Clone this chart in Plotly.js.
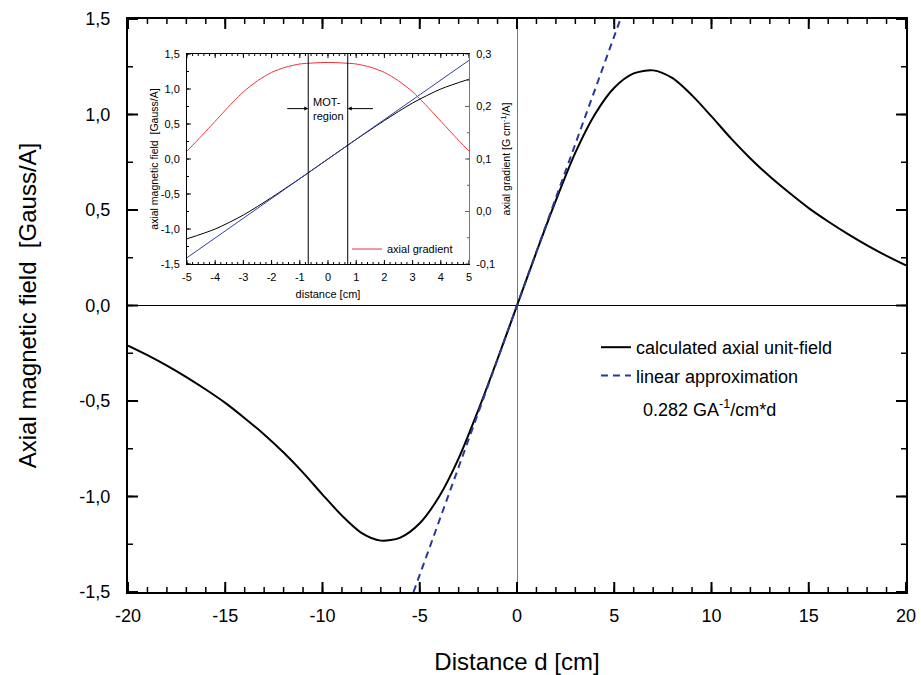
<!DOCTYPE html>
<html>
<head>
<meta charset="utf-8">
<script src="https://cdn.plot.ly/plotly-3.0.1.min.js"></script>
<style>html,body{margin:0;padding:0;background:#fff;}#chart{width:922px;height:675px;}</style>
</head>
<body>
<div id="chart"></div>
<script>
// ---- main chart data ----
const distance = [-20,-19,-18,-17,-16,-15,-14,-13,-12,-11,-10,-9,-8,-7,-6,-5,-4,-3,-2,-1,0,1,2,3,4,5,6,7,8,9,10,11,12,13,14,15,16,17,18,19,20];
const axialField = [-0.21,-0.26,-0.315,-0.375,-0.44,-0.51,-0.59,-0.675,-0.77,-0.875,-0.99,-1.10,-1.19,-1.231,-1.215,-1.14,-1.00,-0.80,-0.55,-0.28,0,0.28,0.55,0.80,1.00,1.14,1.215,1.231,1.19,1.10,0.99,0.875,0.77,0.675,0.59,0.51,0.44,0.375,0.315,0.26,0.21];
const linearX = [-5.32, 5.32];
const linearY = [-1.5, 1.5];
const xTickVals = [-20,-15,-10,-5,0,5,10,15,20];
const xTickText = ['-20','-15','-10','-5','0','5','10','15','20'];
const yTickVals = [-1.5,-1,-0.5,0,0.5,1,1.5];
const yTickText = ['-1,5','-1,0','-0,5','0,0','0,5','1,0','1,5'];

// ---- inset data ----
const insetX = [-5,-4,-3,-2,-1,0,1,2,3,4,5];
const insetField = [-1.14,-1.00,-0.80,-0.55,-0.28,0,0.28,0.55,0.80,1.00,1.14];
const gradX = [-5,-4.5,-4,-3.5,-3,-2.5,-2,-1.5,-1,-0.5,0,0.5,1,1.5,2,2.5,3,3.5,4,4.5,5];
const insetGradient = [0.115,0.143,0.172,0.201,0.228,0.249,0.265,0.275,0.281,0.283,0.284,0.283,0.281,0.275,0.265,0.249,0.228,0.201,0.172,0.143,0.115];
const insetLinX = [-5, 5];
const insetLinY = [-1.41, 1.41];
const motBounds = [-0.7, 0.7];
const arrowTails = [-1.55, 1.7];
const arrowLevel = 0.72;
const inXTickVals = [-5,-4,-3,-2,-1,0,1,2,3,4,5];
const inXTickText = ['-5','-4','-3','-2','-1','0','1','2','3','4','5'];
const inYTickVals = [-1.5,-1,-0.5,0,0.5,1,1.5];
const inYTickText = ['-1,5','-1,0','-0,5','0,0','0,5','1,0','1,5'];
const inY3TickVals = [-0.1,0,0.1,0.2,0.3];
const inY3TickText = ['-0,1','0,0','0,1','0,2','0,3'];

const FONT = 'Liberation Sans, Arial, sans-serif';

const traces = [
  {x: distance, y: axialField, type:'scatter', mode:'lines', name:'calculated axial unit-field',
   line:{color:'#000', width:2, shape:'spline', smoothing:0.8}, xaxis:'x', yaxis:'y', legendgroup:'a'},
  {x: linearX, y: linearY, type:'scatter', mode:'lines', name:'linear approximation',
   line:{color:'#2b3896', width:2, dash:'7px,5px'}, xaxis:'x', yaxis:'y', legendgroup:'b'},
  {x: insetX, y: insetField, type:'scatter', mode:'lines', showlegend:false,
   line:{color:'#000', width:1, shape:'spline', smoothing:0.8}, xaxis:'x2', yaxis:'y2'},
  {x: insetLinX, y: insetLinY, type:'scatter', mode:'lines', showlegend:false,
   line:{color:'#3340a0', width:1}, xaxis:'x2', yaxis:'y2'},
  {x: gradX, y: insetGradient, type:'scatter', mode:'lines', name:'axial gradient',
   line:{color:'#f0303a', width:1, shape:'spline', smoothing:0.6}, xaxis:'x2', yaxis:'y3', legend:'legend2'}
];

// ---- inside tick marks, built from the axis ranges and steps (axis decoration) ----
const MAIN_W = 778, MAIN_H = 573;
const inDomX = [0.0758,0.4383], inDomY = [0.5724,0.9389];
const IN_W = MAIN_W*(inDomX[1]-inDomX[0]), IN_H = MAIN_H*(inDomY[1]-inDomY[0]);

function tickTrace(xa, ya, xr, yr, w, h, opts){
  const xs = [], ys = [];
  if (opts.xStep){
    const n = Math.round((xr[1]-xr[0])/opts.xStep), d = opts.len*(yr[1]-yr[0])/h;
    for (let i=0;i<=n;i++){ const v = xr[0]+i*opts.xStep;
      xs.push(v, v, null, v, v, null); ys.push(yr[0], yr[0]+d, null, yr[1], yr[1]-d, null); }
  }
  if (opts.yStep){
    const n = Math.round((yr[1]-yr[0])/opts.yStep), d = opts.len*(xr[1]-xr[0])/w;
    for (let i=0;i<=n;i++){ const v = yr[0]+i*opts.yStep;
      opts.sides.forEach(s => {
        if (s==='left'){ xs.push(xr[0], xr[0]+d, null); } else { xs.push(xr[1], xr[1]-d, null); }
        ys.push(v, v, null);
      });
    }
  }
  return {x:xs, y:ys, type:'scatter', mode:'lines', xaxis:xa, yaxis:ya, showlegend:false, hoverinfo:'skip',
    connectgaps:false, line:{color:opts.color||'#000', width:opts.width}, cliponaxis:false};
}
traces.push(
  tickTrace('x','y',[-20,20],[-1.5,1.5],MAIN_W,MAIN_H,{xStep:1, len:5, width:1.5}),
  tickTrace('x','y',[-20,20],[-1.5,1.5],MAIN_W,MAIN_H,{xStep:5, len:10, width:2}),
  tickTrace('x','y',[-20,20],[-1.5,1.5],MAIN_W,MAIN_H,{yStep:0.25, len:5, width:1.5, sides:['left','right']}),
  tickTrace('x','y',[-20,20],[-1.5,1.5],MAIN_W,MAIN_H,{yStep:0.5, len:10, width:2, sides:['left','right']}),
  tickTrace('x2','y2',[-5,5],[-1.5,1.5],IN_W,IN_H,{xStep:0.2, len:2, width:1}),
  tickTrace('x2','y2',[-5,5],[-1.5,1.5],IN_W,IN_H,{xStep:1, len:4, width:1}),
  tickTrace('x2','y2',[-5,5],[-1.5,1.5],IN_W,IN_H,{yStep:0.25, len:2, width:1, sides:['left']}),
  tickTrace('x2','y2',[-5,5],[-1.5,1.5],IN_W,IN_H,{yStep:0.5, len:4, width:1, sides:['left']}),
  tickTrace('x2','y3',[-5,5],[-0.1,0.3],IN_W,IN_H,{yStep:0.05, len:2, width:1, sides:['right'], color:'#666'}),
  tickTrace('x2','y3',[-5,5],[-0.1,0.3],IN_W,IN_H,{yStep:0.1, len:4, width:1, sides:['right'], color:'#666'})
);

const shapes = motBounds.map(v => ({type:'line', xref:'x2', yref:'y2 domain', x0:v, x1:v, y0:0, y1:1,
  line:{color:'#000', width:1}}));

const annotations = [
  {xref:'paper', yref:'paper', x:0.6594, y:0.3211, xanchor:'left', yanchor:'middle', showarrow:false,
   text:'0.282 GA<sup>-1</sup>/cm*d', font:{family:FONT, size:18, color:'#000'}},
  {xref:'x2', yref:'y2', x:-0.62, y:arrowLevel, xanchor:'left', yanchor:'middle', showarrow:false, align:'left',
   text:'MOT-<br>region', font:{family:FONT, size:11, color:'#000'}}
];
motBounds.forEach((v,i) => annotations.push({
  xref:'x2', yref:'y2', x:v, y:arrowLevel, axref:'x2', ayref:'y2', ax:arrowTails[i], ay:arrowLevel,
  showarrow:true, arrowhead:2, arrowsize:0.8, arrowwidth:1, arrowcolor:'#000', text:' '
}));

const layout = {
  width:922, height:675,
  margin:{l:128, r:16, t:19, b:83},
  paper_bgcolor:'#fff', plot_bgcolor:'#fff',
  separators:',.',
  font:{family:FONT, color:'#000'},
  showlegend:true,
  xaxis:{
    domain:[0,1], anchor:'y', range:[-20,20], tickmode:'array', tickvals:xTickVals, ticktext:xTickText, ticks:'',
    showline:true, linewidth:2, linecolor:'#000', mirror:true, showgrid:false,
    zeroline:true, zerolinecolor:'#777', zerolinewidth:1,
    tickfont:{family:FONT, size:18}, ticklabelstandoff:6,
    title:{text:'Distance d [cm]', font:{family:FONT, size:24}, standoff:29}
  },
  yaxis:{
    domain:[0,1], anchor:'x', range:[-1.5,1.5], tickmode:'array', tickvals:yTickVals, ticktext:yTickText, ticks:'',
    showline:true, linewidth:2, linecolor:'#000', mirror:true, showgrid:false,
    zeroline:true, zerolinecolor:'#000', zerolinewidth:1,
    tickfont:{family:FONT, size:18}, ticklabelstandoff:12,
    title:{text:'Axial magnetic field\u00a0\u00a0[Gauss/A]', font:{family:FONT, size:24}, standoff:36}
  },
  xaxis2:{
    domain:inDomX, anchor:'y2', range:[-5,5], tickmode:'array', tickvals:inXTickVals, ticktext:inXTickText, ticks:'',
    showline:true, linewidth:1, linecolor:'#000', mirror:true, showgrid:false, zeroline:false,
    tickfont:{family:FONT, size:11}, ticklabelstandoff:3,
    title:{text:'distance [cm]', font:{family:FONT, size:11}, standoff:8}
  },
  yaxis2:{
    domain:inDomY, anchor:'x2', range:[-1.5,1.5], tickmode:'array', tickvals:inYTickVals, ticktext:inYTickText, ticks:'',
    showline:true, linewidth:1, linecolor:'#000', mirror:false, showgrid:false, zeroline:false,
    tickfont:{family:FONT, size:11}, ticklabelstandoff:4,
    title:{text:'axial magnetic field\u00a0\u00a0[Gauss/A]', font:{family:FONT, size:10.5}, standoff:0}
  },
  yaxis3:{
    overlaying:'y2', anchor:'x2', side:'right', range:[-0.1,0.3], tickmode:'array', tickvals:inY3TickVals, ticktext:inY3TickText, ticks:'',
    showline:true, linewidth:1, linecolor:'#777', showgrid:false, zeroline:false,
    tickfont:{family:FONT, size:11}, ticklabelstandoff:4,
    title:{text:'axial gradient [G cm<sup>-1</sup>/A]', font:{family:FONT, size:10.5}, standoff:8}
  },
  legend:{x:0.6015, y:0.459, xanchor:'left', yanchor:'top', bgcolor:'rgba(0,0,0,0)',
    font:{family:FONT, size:18, color:'#000'}, traceorder:'grouped', tracegroupgap:2},
  legend2:{x:0.2815, y:0.5986, xanchor:'left', yanchor:'middle', bgcolor:'rgba(0,0,0,0)',
    font:{family:FONT, size:11, color:'#000'}},
  shapes: shapes,
  annotations: annotations
};

Plotly.newPlot('chart', traces, layout, {displayModeBar:false, staticPlot:true});
</script>
</body>
</html>
